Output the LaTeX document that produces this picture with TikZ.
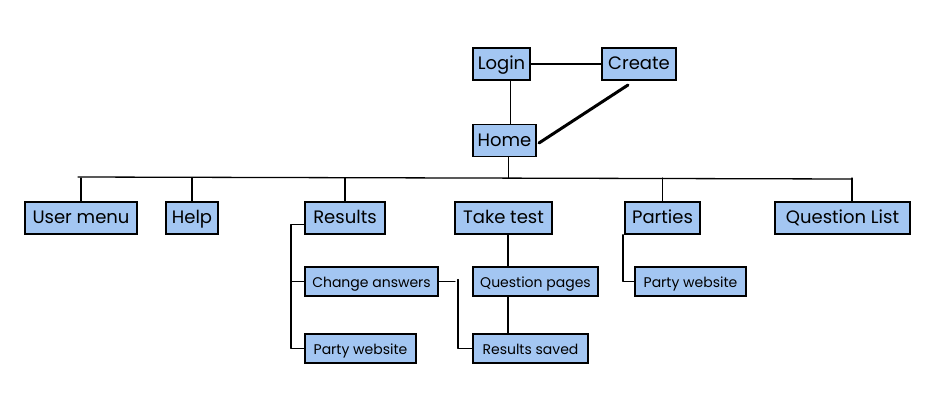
\documentclass[tikz,border=0pt]{standalone}
\usepackage{fontspec}
\setmainfont{Poppins}
\definecolor{boxblue}{HTML}{A3C6F2}
\tikzset{
  box/.style={draw=black, line width=1.6pt, fill=boxblue, rectangle, inner sep=0pt, minimum height=32pt, text height=1.3em, text depth=0.2em, font=\fontsize{18}{20}\selectfont},
  sbox/.style={box, minimum height=29pt, font=\fontsize{14}{16}\selectfont},
  conn/.style={line width=1.3pt, line cap=round, line join=round},
  thickconn/.style={line width=3pt, line cap=round},
}
\begin{document}
\begin{tikzpicture}[x=1pt,y=-1pt]
\useasboundingbox (0,0) rectangle (930,418);
% nodes
\node[box, minimum width=57pt] (login) at (501.5,64) {Login};
\node[box, minimum width=74pt] (create) at (639,64) {Create};
\node[box, minimum width=63pt] (home) at (504.5,140.5) {Home};
\node[box, minimum width=112pt] (um) at (81,218) {User menu};
\node[box, minimum width=52pt] (help) at (192,218) {Help};
\node[box, minimum width=80pt] (res) at (345,218) {Results};
\node[box, minimum width=97pt] (tt) at (503.5,218) {Take test};
\node[box, minimum width=75pt] (par) at (662.5,218) {Parties};
\node[box, minimum width=135pt] (ql) at (842.5,218) {Question List};
\node[sbox, minimum width=133pt] (ca) at (371.5,281.5) {Change answers};
\node[sbox, minimum width=125pt] (qp) at (535.5,281.5) {Question pages};
\node[sbox, minimum width=111pt] (pw1) at (360.5,348.5) {Party website};
\node[sbox, minimum width=115pt] (rs) at (530.5,348.5) {Results saved};
\node[sbox, minimum width=111pt] (pw2) at (690.5,281.5) {Party website};
% helper coordinates
\coordinate (busL) at (78,177);
\coordinate (busR) at (852,179);
\coordinate (bus) at (0,178);
\coordinate (rbx) at (291,0);
\coordinate (cbx) at (458,0);
\coordinate (pbx) at (623,0);
\coordinate (cstart) at (628,85);
\coordinate (hend) at (539,143);
% top connectors
\draw[conn] (login.east) -- (create.west);
\draw[conn] ([xshift=9pt]login.south) -- ([xshift=9pt]login.south |- home.north);
\draw[thickconn] (cstart) -- (hend);
% bus
\draw[conn] (busL) -- (busR);
\draw[conn] ([xshift=4pt]home.south) -- ([xshift=4pt]home.south |- bus);
\draw[conn] (um.north) -- (um.north |- bus);
\draw[conn] (help.north) -- (help.north |- bus);
\draw[conn] (res.north) -- (res.north |- bus);
\draw[conn] (par.north) -- (par.north |- bus);
\draw[conn] ([xshift=9.5pt]ql.north) -- ([xshift=9.5pt]ql.north |- bus);
% take test chain
\draw[conn] ([xshift=4.5pt]tt.south) -- ([xshift=4.5pt]tt.south |- qp.north);
\draw[conn] ([xshift=4.5pt]tt.south |- qp.south) -- ([xshift=4.5pt]tt.south |- rs.north);
% results bracket
\draw[conn] ([yshift=10pt]res.south west) -- ([yshift=10pt]res.south west -| rbx) -- (pw1.west -| rbx) -- (pw1.west);
\draw[conn] (ca.west -| rbx) -- (ca.west);
% change answers bracket
\draw[conn] (ca.east) -- ([xshift=-3pt]ca.east -| cbx);
\draw[conn] ([yshift=2pt]ca.east -| cbx) -- (rs.west -| cbx) -- (rs.west);
% parties bracket
\draw[conn] (par.south -| pbx) -- (pw2.west -| pbx) -- (pw2.west);
\end{tikzpicture}
\end{document}
